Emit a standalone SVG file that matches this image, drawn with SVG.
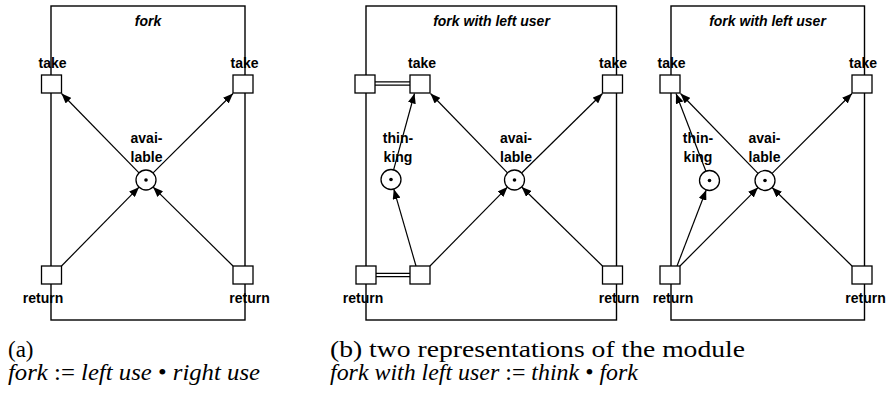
<svg xmlns="http://www.w3.org/2000/svg" width="886" height="401" viewBox="0 0 886 401">
<defs>
<marker id="arr" markerUnits="userSpaceOnUse" markerWidth="11" markerHeight="8" refX="10" refY="4" orient="auto">
<path d="M0,0 L10,4 L0,8 z" fill="#000"/>
</marker>
<style>
.mod{fill:none;stroke:#000;stroke-width:1.4}
.tr{fill:#fff;stroke:#000;stroke-width:1.3}
.pl{fill:#fff;stroke:#000;stroke-width:1.3}
.tok{fill:#000}
.arc{stroke:#000;stroke-width:1.2;fill:none;marker-end:url(#arr)}
.dbl{stroke:#000;stroke-width:4.4;fill:none}
.dbli{stroke:#fff;stroke-width:1.8;fill:none}
.lbl{font-family:"Liberation Sans",Arial,sans-serif;font-size:14px;font-weight:bold;text-anchor:middle;fill:#000}
.ttl{font-family:"Liberation Sans",Arial,sans-serif;font-size:14px;font-weight:bold;font-style:italic;text-anchor:middle;fill:#000}
.cap{font-family:"Liberation Serif","Times New Roman",serif;font-size:23px;fill:#000}
.it{font-style:italic}
</style>
</defs>

<!-- module boundaries -->
<g id="module-a">
<rect class="mod" x="51" y="6" width="194" height="314"/>
<text class="ttl" x="148" y="25.5">fork</text>
</g>
<g id="module-b1">
<rect class="mod" x="366" y="6" width="250.5" height="314"/>
<text class="ttl" x="491.5" y="25.5">fork with left user</text>
</g>
<g id="module-b2">
<rect class="mod" x="671" y="6" width="193.5" height="314"/>
<text class="ttl" x="767.5" y="25.5">fork with left user</text>
</g>

<!-- connectors -->
<g id="connectors">
<!-- (a) -->
<line class="arc" x1="139" y1="172.8" x2="61.5" y2="93.5"/>
<line class="arc" x1="153.1" y1="172.9" x2="233" y2="93.5"/>
<line class="arc" x1="61.5" y1="266" x2="139" y2="187.2"/>
<line class="arc" x1="233" y1="266" x2="153.1" y2="187.1"/>
<!-- (b1) -->
<line class="dbl" x1="375" y1="83.5" x2="410" y2="83.5"/>
<line class="dbli" x1="375" y1="83.5" x2="410" y2="83.5"/>
<line class="dbl" x1="376" y1="275" x2="410" y2="275"/>
<line class="dbli" x1="376" y1="275" x2="410" y2="275"/>
<line class="arc" x1="393.6" y1="169.9" x2="414.5" y2="93.5"/>
<line class="arc" x1="507.5" y1="172.8" x2="430.5" y2="93.5"/>
<line class="arc" x1="521.6" y1="173" x2="602.5" y2="93.5"/>
<line class="arc" x1="416" y1="266" x2="393.8" y2="189.1"/>
<line class="arc" x1="430" y1="266" x2="507.5" y2="187.1"/>
<line class="arc" x1="602.5" y1="266" x2="521.7" y2="187"/>
<!-- (b2) -->
<line class="arc" x1="705.9" y1="171.2" x2="676" y2="93.5"/>
<line class="arc" x1="758" y1="173.3" x2="680.5" y2="93.5"/>
<line class="arc" x1="772.1" y1="173.4" x2="852" y2="93.5"/>
<line class="arc" x1="677" y1="266" x2="706.2" y2="190"/>
<line class="arc" x1="680" y1="266" x2="758" y2="187.6"/>
<line class="arc" x1="852" y1="266" x2="772.1" y2="187.5"/>
</g>

<!-- (a) nodes -->
<g id="a-take-left"><rect class="tr" x="41.5" y="75" width="20" height="18"/><text class="lbl" x="52.5" y="68">take</text></g>
<g id="a-take-right"><rect class="tr" x="233" y="75" width="20" height="18"/><text class="lbl" x="244.5" y="68">take</text></g>
<g id="a-return-left"><rect class="tr" x="41.5" y="266" width="20" height="18"/><text class="lbl" x="43" y="303">return</text></g>
<g id="a-return-right"><rect class="tr" x="233" y="266" width="20" height="18"/><text class="lbl" x="249.5" y="303">return</text></g>
<g id="a-available"><circle class="pl" cx="146" cy="180" r="10"/><circle class="tok" cx="146" cy="180" r="1.8"/><text class="lbl" x="146.5" y="143">avai-</text><text class="lbl" x="146.5" y="162">lable</text></g>

<!-- (b1) nodes -->
<g id="b1-take-outer"><rect class="tr" x="355" y="75" width="20" height="18"/></g>
<g id="b1-take"><rect class="tr" x="410" y="75" width="20" height="18"/><text class="lbl" x="422" y="68">take</text></g>
<g id="b1-take-right"><rect class="tr" x="602.5" y="75" width="20" height="18"/><text class="lbl" x="613" y="68">take</text></g>
<g id="b1-return-outer"><rect class="tr" x="356" y="266" width="20" height="18"/><text class="lbl" x="363" y="303">return</text></g>
<g id="b1-return"><rect class="tr" x="410" y="266" width="20" height="18"/></g>
<g id="b1-return-right"><rect class="tr" x="602.5" y="266" width="20" height="18"/><text class="lbl" x="619" y="303">return</text></g>
<g id="b1-thinking"><circle class="pl" cx="391" cy="179.5" r="10"/><circle class="tok" cx="391" cy="179.5" r="1.8"/><text class="lbl" x="398" y="143">thin-</text><text class="lbl" x="398" y="162">king</text></g>
<g id="b1-available"><circle class="pl" cx="514.5" cy="180" r="10"/><circle class="tok" cx="514.5" cy="180" r="1.8"/><text class="lbl" x="516" y="143">avai-</text><text class="lbl" x="516" y="162">lable</text></g>

<!-- (b2) nodes -->
<g id="b2-take-left"><rect class="tr" x="660" y="75" width="20" height="18"/><text class="lbl" x="671.5" y="68">take</text></g>
<g id="b2-take-right"><rect class="tr" x="852" y="75" width="20" height="18"/><text class="lbl" x="863" y="68">take</text></g>
<g id="b2-return-left"><rect class="tr" x="660" y="266" width="20" height="18"/><text class="lbl" x="673" y="303">return</text></g>
<g id="b2-return-right"><rect class="tr" x="852" y="266" width="20" height="18"/><text class="lbl" x="865.5" y="303">return</text></g>
<g id="b2-thinking"><circle class="pl" cx="709.5" cy="180.5" r="10"/><circle class="tok" cx="709.5" cy="180.5" r="1.8"/><text class="lbl" x="698" y="143">thin-</text><text class="lbl" x="698" y="162">king</text></g>
<g id="b2-available"><circle class="pl" cx="765" cy="180.5" r="10"/><circle class="tok" cx="765" cy="180.5" r="1.8"/><text class="lbl" x="764.5" y="143">avai-</text><text class="lbl" x="764.5" y="162">lable</text></g>

<!-- captions -->
<g id="captions">
<text class="cap" x="8" y="357">(a)</text>
<text class="cap" x="8" y="380" textLength="252" lengthAdjust="spacingAndGlyphs"><tspan class="it">fork</tspan> := <tspan class="it">left use</tspan> • <tspan class="it">right use</tspan></text>
<text class="cap" x="330" y="357" textLength="415" lengthAdjust="spacingAndGlyphs">(b) two representations of the module</text>
<text class="cap" x="330" y="380" textLength="308" lengthAdjust="spacingAndGlyphs"><tspan class="it">fork with left user</tspan> := <tspan class="it">think</tspan> • <tspan class="it">fork</tspan></text>
</g>
</svg>
